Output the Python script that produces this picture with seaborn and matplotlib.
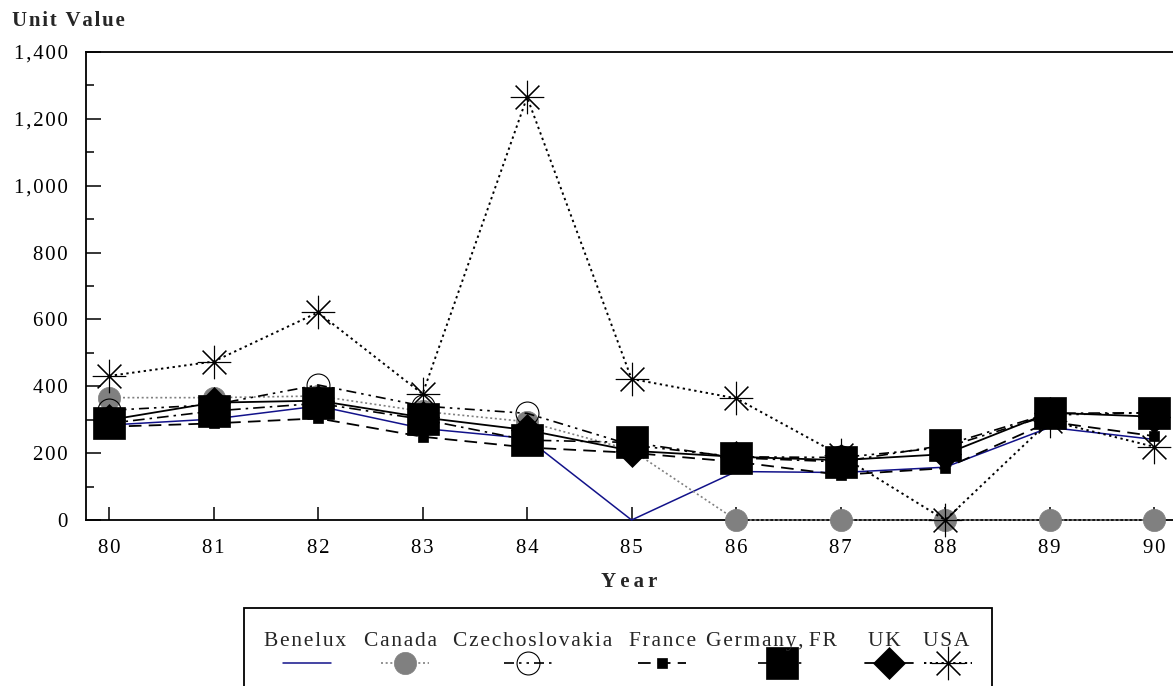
import matplotlib
matplotlib.use('Agg')
import matplotlib.pyplot as plt
from matplotlib.lines import Line2D
from matplotlib.patches import Rectangle
from matplotlib.ticker import MultipleLocator
import pandas as pd
import seaborn as sns

years = [80, 81, 82, 83, 84, 85, 86, 87, 88, 89, 90]
benelux = [284, 302, 341, 274, 244, 0, 145, 142, 158, 277, 241]
canada = [366, 366, 371, 325, 294, 209, 0, 0, 0, 0, 0]
czechoslovakia = [328, 345, 404, 341, 319, 224, 189, 187, 217, 314, 321]
france = [279, 289, 304, 249, 217, 201, 174, 135, 155, 294, 251]
germany = [289, 326, 349, 301, 239, 232, 186, 174, 224, 319, 321]
uk = [299, 351, 357, 307, 269, 207, 189, 179, 197, 321, 309]
usa = [431, 474, 621, 377, 1265, 422, 364, 193, 0, 297, 219]

countries = ['Benelux', 'Canada', 'Czechoslovakia', 'France', 'Germany, FR', 'UK', 'USA']
y_ticks = [0, 200, 400, 600, 800, 1000, 1200, 1400]
y_ticklabels = ['0', '200', '400', '600', '800', '1,000', '1,200', '1,400']

df = pd.DataFrame({'Year': years, 'Benelux': benelux, 'Canada': canada,
                   'Czechoslovakia': czechoslovakia, 'France': france,
                   'Germany, FR': germany, 'UK': uk, 'USA': usa})
df = df.melt(id_vars='Year', var_name='country', value_name='value')

# look of each series (line, marker)
styles = {
    'Benelux': dict(color='#12128a', linestyle='-', linewidth=1.1, marker='', zorder=3),
    'Canada': dict(color='#808080', linestyle=(0, (1.2, 1.6)), linewidth=1.2, marker='o',
                   markersize=16, markerfacecolor='#808080', markeredgecolor='#808080',
                   markeredgewidth=0.5, zorder=3),
    'Czechoslovakia': dict(color='black', linestyle=(0, (6, 3, 1.5, 3, 1.5, 3)), linewidth=1.2,
                           marker='o', markersize=16.5, markerfacecolor='none',
                           markeredgecolor='black', markeredgewidth=0.8, zorder=4),
    'France': dict(color='black', linestyle=(0, (7, 4)), linewidth=1.3, marker='s',
                   markersize=7.5, markerfacecolor='black', markeredgecolor='black',
                   markeredgewidth=0.5, zorder=4),
    'Germany, FR': dict(color='black', linestyle=(0, (7, 3, 1.5, 3)), linewidth=1.2, marker='s',
                        markersize=23, markerfacecolor='black', markeredgecolor='black',
                        markeredgewidth=0.5, zorder=7),
    'UK': dict(color='black', linestyle='-', linewidth=1.3, marker='D',
               markersize=16.5, markerfacecolor='black', markeredgecolor='black',
               markeredgewidth=0.5, zorder=5),
    'USA': dict(color='black', linestyle=(0, (1.2, 1.8)), linewidth=1.4, marker=(8, 2, 0),
                markersize=24, markerfacecolor='black', markeredgecolor='black',
                markeredgewidth=0.8, zorder=6),
}


def spaced(s, gap='\u200a'):
    # the original text is letter-spaced
    return ' '.join(gap.join(w) for w in s.split(' '))


W, H = 1173, 686
sns.set_style('ticks')
plt.rcParams['font.family'] = ['Liberation Serif', 'DejaVu Serif']

fig = plt.figure(figsize=(W / 100, H / 100), dpi=100)
ax = fig.add_axes([86 / W, 1 - 520 / H, (W - 86) / W, 468 / H])

for c in countries:
    sub = df[df['country'] == c]
    sns.lineplot(data=sub, x='Year', y='value', ax=ax, legend=False, clip_on=False, **styles[c])

ax.set_xlim(79.78, 90.18)
ax.set_ylim(0, 1400)
ax.set_xticks(years)
ax.set_xticklabels([spaced(str(y)) for y in years])
ax.set_yticks(y_ticks)
ax.set_yticklabels([spaced(t) for t in y_ticklabels])
ax.yaxis.set_minor_locator(MultipleLocator(100))
ax.tick_params(axis='both', which='both', direction='in', labelsize=15, width=1.1, colors='black')
ax.tick_params(axis='y', which='major', length=11, pad=13)
ax.tick_params(axis='y', which='minor', length=6)
ax.tick_params(axis='x', which='major', length=9.5, pad=14)
ax.tick_params(axis='x', which='minor', bottom=False)

for side in ['left', 'bottom', 'top']:
    ax.spines[side].set_visible(True)
    ax.spines[side].set_color('black')
    ax.spines[side].set_linewidth(1.3)
ax.spines['right'].set_visible(False)

ax.set_xlabel(spaced('Year', '\u2009'), fontsize=15, fontweight='bold', labelpad=10)
ax.set_ylabel('')
fig.text(12 / W, 1 - 21 / H, '\u200a'.join('Unit Value'), fontsize=15, fontweight='bold',
         va='center', ha='left')

# legend: labels above their handles, box running off the bottom
fig.add_artist(Rectangle((244 / W, -0.05), (992 - 244) / W, 0.05 + 1 - 608 / H,
                         transform=fig.transFigure, fill=False, edgecolor='black',
                         linewidth=1.3, clip_on=False))
label_x = [305, 400, 533, 663, 771, 884, 946]
handle_x = [307, 405, 528, 662, 782, 889, 948]
for c, lx, hx in zip(countries, label_x, handle_x):
    fig.text(lx / W, 1 - 646 / H, spaced(c), fontsize=15.5, ha='center', va='baseline')
    st = dict(styles[c])
    st.pop('zorder')
    xs = [(hx - 24) / W, hx / W, (hx + 24) / W]
    ys = [1 - 663 / H] * 3
    fig.add_artist(Line2D(xs, ys, transform=fig.transFigure, markevery=[1], **st))

fig.savefig('out.png', dpi=100)
